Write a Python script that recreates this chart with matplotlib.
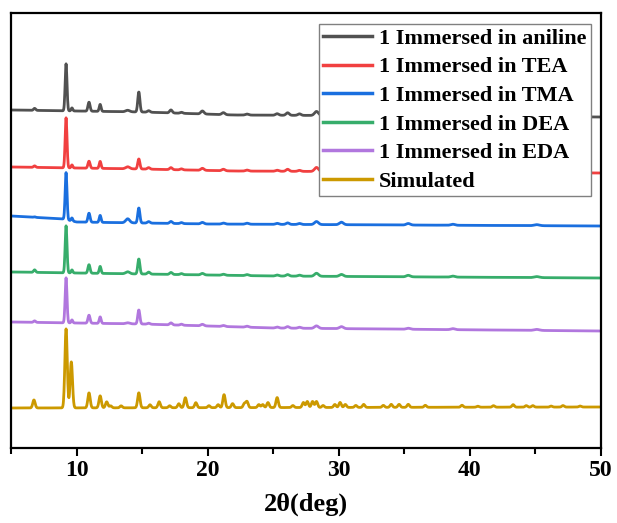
import numpy as np
import matplotlib.pyplot as plt
from matplotlib.ticker import MultipleLocator

plt.rcParams['font.family'] = ['Liberation Serif', 'DejaVu Serif']
plt.rcParams['font.weight'] = 'bold'

# reflection positions (2theta, deg) seen in the measured patterns
exp_pos = [6.8, 9.2, 9.65, 10.95, 11.8, 13.9, 14.75, 15.5, 17.2, 18.0, 19.6,
           21.2, 23.0, 25.3, 26.1, 27.0, 28.3, 30.2, 35.3, 38.7, 45.1]
exp_width = [0.08, 0.07, 0.06, 0.08, 0.07, 0.15, 0.08, 0.1, 0.1, 0.1, 0.12,
             0.12, 0.12, 0.12, 0.12, 0.12, 0.15, 0.15, 0.15, 0.15, 0.2]

aniline_int = [2, 47, 3, 9, 7, 1.5, 20, 1.5, 3, 1, 3, 2, 1, 1.5, 2.5, 1.5, 4, 2, 1.5, 1, 1]
tea_int = [1.5, 50, 3, 7, 7, 2, 10, 1.5, 2, 1, 2, 1.5, 1, 1, 2, 1, 4, 2, 1.5, 1, 1]
tma_int = [0.5, 47, 3, 9, 7, 4, 15, 1.5, 2, 1, 1.5, 1, 1, 1, 1.5, 1, 3, 2.5, 1.5, 1, 1]
dea_int = [2.5, 47, 3, 8.5, 7, 2, 15, 2, 2, 1, 1.5, 1, 1, 1, 1.5, 1, 3, 2, 1.5, 1, 1]
eda_int = [1.5, 45, 3, 8, 6.5, 1, 14, 1, 2, 1, 1.5, 1, 1, 1, 1.5, 1, 2.5, 2, 1, 1, 1]

# simulated pattern from the single crystal structure
sim_pos = [6.75, 9.2, 9.6, 10.95, 11.8, 12.3, 12.6, 13.4, 14.75, 15.6, 16.3,
           17.1, 17.8, 18.3, 19.1, 20.1, 20.8, 21.25, 21.9, 22.8, 23.0, 23.9,
           24.2, 24.6, 25.3, 26.5, 27.3, 27.6, 28.0, 28.3, 28.8, 29.7, 30.1,
           30.5, 31.3, 31.9, 33.4, 34.0, 34.6, 35.3, 36.6, 39.4, 40.6, 41.8,
           43.3, 44.3, 44.8, 46.2, 47.1, 48.4]
sim_int = [8, 79, 46, 15, 12, 6, 2, 2, 15, 3, 6,
           2, 4, 10, 5, 2, 3, 13, 4, 4, 6, 3,
           3, 5, 10, 2, 5, 6, 6, 6, 2, 3, 5,
           3, 2, 3, 2, 3, 3, 3, 2, 2, 1, 1.5,
           2.5, 1.5, 1.5, 1, 1.5, 1]

# stacked baselines: (2theta, offset) pairs
aniline_base = [(5, 338), (15, 336), (22, 333), (50, 331)]
tea_base = [(5, 281), (15, 279), (22, 277), (50, 275)]
tma_base = [(5, 232), (9, 229), (10, 226), (20, 224), (50, 222)]
dea_base = [(5, 176), (15, 174), (25, 172), (50, 170)]
eda_base = [(5, 126), (15, 124), (25, 120), (50, 117)]
sim_base = [(5, 40), (50, 41)]

labels = ['1 Immersed in aniline', '1 Immersed in TEA', '1 Immersed in TMA',
          '1 Immersed in DEA', '1 Immersed in EDA', 'Simulated']
colors = ['#515151', '#F14040', '#1A6FDF', '#37AD6B', '#B177DE', '#CC9900']

two_theta = np.arange(5, 50.001, 0.02)


def pattern(base, pos, inten, width):
    bx, by = zip(*base)
    y = np.interp(two_theta, bx, by)
    for p, h, w in zip(pos, inten, width):
        y = y + h * np.exp(-0.5 * ((two_theta - p) / w) ** 2)
    return y


traces = [
    pattern(aniline_base, exp_pos, aniline_int, exp_width),
    pattern(tea_base, exp_pos, tea_int, exp_width),
    pattern(tma_base, exp_pos, tma_int, exp_width),
    pattern(dea_base, exp_pos, dea_int, exp_width),
    pattern(eda_base, exp_pos, eda_int, exp_width),
    pattern(sim_base, sim_pos, sim_int, [0.09] * len(sim_pos)),
]

fig = plt.figure(figsize=(6.17, 5.23), dpi=100)
ax = fig.add_axes([11 / 617, 75 / 523, 590 / 617, 435 / 523])

for y, lab, c in zip(traces, labels, colors):
    ax.plot(two_theta, y, color=c, lw=2.0, label=lab)

ax.set_xlim(5, 50)
ax.set_ylim(0, 435)
ax.set_yticks([])
ax.xaxis.set_major_locator(MultipleLocator(10))
ax.xaxis.set_minor_locator(MultipleLocator(5))
ax.tick_params(axis='x', which='major', direction='out', length=6, width=1.5,
               labelsize=17, pad=3)
ax.tick_params(axis='x', which='minor', direction='out', length=4, width=1.5)
for s in ax.spines.values():
    s.set_linewidth(1.6)
ax.set_xlabel('2θ(deg)', fontsize=19, fontweight='bold', labelpad=8)

leg = ax.legend(loc='upper right', bbox_to_anchor=(0.983, 0.975), borderaxespad=0,
                fontsize=16, frameon=True, fancybox=False, framealpha=1,
                edgecolor='#808080', handlelength=2.2, handletextpad=0.3,
                labelspacing=0.36, borderpad=0.2)
leg.get_frame().set_linewidth(1.0)
for line in leg.get_lines():
    line.set_linewidth(2.5)

fig.savefig('out.png', dpi=100)
